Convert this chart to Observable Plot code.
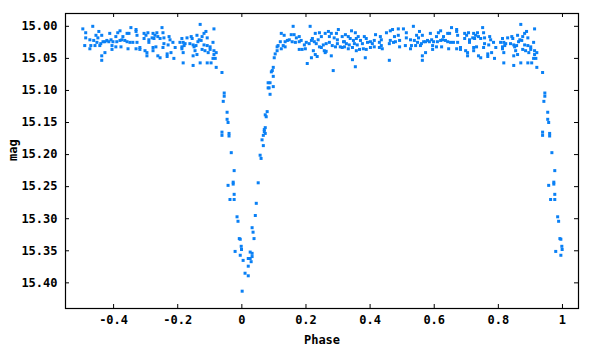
<!DOCTYPE html>
<html>
<head>
<meta charset="utf-8">
<script src="https://cdn.jsdelivr.net/npm/d3@7"></script>
<script src="https://cdn.jsdelivr.net/npm/@observablehq/plot@0.6"></script>
<style>
  html, body { margin: 0; padding: 0; background: #fff; }
  #chart { width: 600px; height: 350px; }
</style>
</head>
<body>
<div id="chart"></div>
<script>
// Tick labels
const xTicks = [-0.4, -0.2, 0, 0.2, 0.4, 0.6, 0.8, 1];
const yTicks = [15.00, 15.05, 15.10, 15.15, 15.20, 15.25, 15.30, 15.35, 15.40];

// Observations [phase, mag], phase folded to [-0.5, 0.5)
const plateauA = [
  [-0.496,15.004],[-0.465,15.000],[-0.487,15.010],[-0.446,15.008],[-0.487,15.018],[-0.474,15.021],[-0.455,15.014],[-0.449,15.018],
  [-0.437,15.014],[-0.412,15.011],[-0.387,15.010],[-0.380,15.007],[-0.346,15.002],[-0.330,15.005],[-0.330,15.008],[-0.358,15.011],
  [-0.352,15.011],[-0.371,15.016],[-0.393,15.016],[-0.327,15.014],[-0.305,15.011],[-0.293,15.010],[-0.299,15.014],[-0.277,15.011],
  [-0.265,15.010],[-0.271,15.014],[-0.262,15.016],[-0.255,15.019],[-0.274,15.019],[-0.249,15.002],[-0.246,15.010],
  [-0.421,15.022],[-0.408,15.021],[-0.402,15.024],[-0.415,15.024],[-0.427,15.024],[-0.390,15.024],[-0.380,15.022],[-0.374,15.021],
  [-0.365,15.022],[-0.358,15.024],[-0.349,15.025],[-0.340,15.025],[-0.327,15.025],[-0.305,15.019],[-0.290,15.021],[-0.290,15.025],
  [-0.280,15.018],[-0.462,15.022],[-0.452,15.025],[-0.440,15.027],[-0.433,15.024],
  [-0.490,15.030],[-0.471,15.030],[-0.458,15.030],[-0.443,15.030],[-0.474,15.035],[-0.405,15.030],[-0.405,15.036],[-0.393,15.032],
  [-0.377,15.032],[-0.355,15.035],[-0.330,15.035],[-0.318,15.033],[-0.318,15.036],[-0.302,15.038],[-0.296,15.041],[-0.296,15.046],
  [-0.277,15.033],[-0.277,15.038],[-0.268,15.032],[-0.262,15.046],[-0.255,15.049],[-0.427,15.041],[-0.437,15.046],[-0.437,15.053]
];
const plateauB = [
  [-0.130,14.997],[-0.087,15.004],[-0.112,15.008],[-0.118,15.011],[-0.124,15.016],[-0.108,15.018],
  [-0.243,15.018],[-0.227,15.016],[-0.224,15.021],[-0.215,15.025],[-0.230,15.029],[-0.243,15.027],[-0.246,15.033],
  [-0.208,15.033],[-0.221,15.041],[-0.233,15.043],[-0.233,15.047],[-0.212,15.050],
  [-0.187,15.019],[-0.171,15.018],[-0.158,15.016],[-0.155,15.019],[-0.140,15.014],[-0.133,15.021],[-0.127,15.022],[-0.137,15.024],
  [-0.193,15.025],[-0.183,15.025],[-0.177,15.027],[-0.187,15.032],[-0.162,15.027],[-0.152,15.029],[-0.149,15.032],[-0.143,15.030],
  [-0.187,15.035],[-0.180,15.030],[-0.183,15.041],[-0.146,15.038],[-0.152,15.046],[-0.140,15.044],
  [-0.118,15.029],[-0.108,15.030],[-0.099,15.032],[-0.090,15.025],[-0.124,15.036],[-0.115,15.038],[-0.105,15.041],[-0.099,15.036],
  [-0.087,15.038],[-0.080,15.041],[-0.087,15.044],[-0.090,15.050],[-0.083,15.050],
  [-0.183,15.057],[-0.152,15.061],[-0.130,15.057],[-0.108,15.057],[-0.096,15.057],
  [-0.080,15.064],[-0.062,15.072]
];
const ingress = [
  [-0.055,15.104],[-0.055,15.109],[-0.058,15.117],[-0.046,15.134],[-0.046,15.145],[-0.043,15.150],[-0.062,15.165],[-0.062,15.170],
  [-0.040,15.167],[-0.040,15.171],[-0.033,15.197],[-0.024,15.225],[-0.027,15.243],[-0.027,15.246],[-0.043,15.248],[-0.024,15.262],
  [-0.037,15.270],[-0.024,15.270],[-0.015,15.297],[-0.012,15.304],[-0.008,15.331],[-0.005,15.332],[-0.002,15.343],[-0.001,15.348],
  [-0.021,15.351],[-0.005,15.357]
];
const egress = [
  [0.004,15.365],[0.020,15.374],[0.010,15.385],[0.020,15.389],[0.001,15.413],[0.026,15.352],[0.032,15.354],[0.032,15.359],
  [0.026,15.362],[0.029,15.367],[0.020,15.362],[0.038,15.331],[0.035,15.321],[0.032,15.314],[0.042,15.295],[0.045,15.276],
  [0.051,15.244],[0.057,15.201],[0.060,15.206],[0.067,15.186],[0.063,15.177],[0.067,15.170],[0.073,15.167],[0.070,15.164],
  [0.070,15.161],[0.073,15.158],[0.076,15.141],[0.073,15.138],[0.079,15.133],[0.088,15.106],[0.098,15.094],[0.082,15.096],
  [0.085,15.096],[0.082,15.088],[0.088,15.088],[0.092,15.071],[0.095,15.069],[0.098,15.064],[0.098,15.078]
];
const plateauC = [
  [0.101,15.049],[0.104,15.043],[0.110,15.038],[0.110,15.032],[0.123,15.035],[0.113,15.030],
  [0.123,15.011],[0.132,15.014],[0.120,15.024],[0.135,15.024],[0.129,15.030],[0.135,15.032],[0.142,15.022],[0.148,15.021],
  [0.160,15.000],[0.154,15.013],[0.163,15.013],[0.170,15.018],[0.179,15.016],[0.157,15.024],[0.167,15.025],[0.179,15.024],[0.185,15.022],
  [0.179,15.036],[0.188,15.036],[0.198,15.035],[0.195,15.029],[0.201,15.025],[0.210,15.027],[0.217,15.022],[0.220,15.019],[0.226,15.024],
  [0.213,15.000],[0.229,15.011],[0.238,15.021],[0.242,15.010],[0.248,15.016],[0.260,15.011],[0.270,15.008],[0.279,15.011],
  [0.273,15.016],[0.288,15.018],[0.295,15.011],[0.301,15.005],[0.298,15.021],[0.313,15.016],[0.320,15.024],[0.323,15.013],
  [0.232,15.027],[0.242,15.032],[0.248,15.033],[0.254,15.029],[0.263,15.027],[0.273,15.025],[0.282,15.030],[0.292,15.032],
  [0.298,15.027],[0.307,15.032],[0.313,15.033],
  [0.223,15.038],[0.229,15.044],[0.235,15.047],[0.217,15.049],[0.257,15.038],[0.263,15.039],[0.279,15.046],[0.260,15.041],
  [0.204,15.058],[0.285,15.069]
];
const plateauD = [
  [0.342,15.007],[0.354,15.010],[0.332,15.016],[0.338,15.019],[0.348,15.022],[0.357,15.019],[0.363,15.016],[0.370,15.022],
  [0.382,15.016],[0.388,15.019],
  [0.317,15.024],[0.326,15.027],[0.335,15.029],[0.351,15.027],[0.360,15.029],[0.376,15.027],[0.392,15.025],[0.401,15.024],
  [0.413,15.022],[0.417,15.013],[0.407,15.027],
  [0.320,15.032],[0.332,15.035],[0.345,15.033],[0.357,15.038],[0.367,15.036],[0.379,15.035],[0.388,15.036],[0.401,15.033],
  [0.413,15.032],[0.432,15.016],[0.435,15.021],[0.429,15.025],[0.435,15.030],[0.429,15.033],[0.438,15.035],
  [0.345,15.052],[0.385,15.049],[0.354,15.063],[0.460,15.053],
  [0.451,15.010],[0.463,15.007],[0.470,15.005],[0.488,15.004],[0.476,15.016],[0.488,15.014],[0.463,15.022],[0.479,15.024],
  [0.492,15.022],[0.460,15.027],[0.473,15.025],[0.492,15.032]
];

// Folded curve plus the negative-phase half repeated one cycle later
const base = [...plateauA, ...plateauB, ...ingress, ...egress, ...plateauC, ...plateauD]
  .map(([phase, mag]) => ({phase, mag}));
const repeated = base.filter(d => d.phase < 0).map(d => ({phase: d.phase + 1, mag: d.mag}));
const points = [...base, ...repeated];

const font = "DejaVu Sans Mono";
const W = 600, H = 350, ML = 65, MR = 22, MT = 13, MB = 42;
const tickLen = 4;
const innerW = W - ML - MR, innerH = H - MT - MB;

const chart = Plot.plot({
  width: W,
  height: H,
  marginLeft: ML,
  marginRight: MR,
  marginTop: MT,
  marginBottom: MB,
  style: {fontFamily: font, fontSize: "12px", fontWeight: "bold", color: "#000", background: "#fff"},
  x: {domain: [-0.55, 1.05]},
  y: {domain: [14.98, 15.44], reverse: true},
  marks: [
    Plot.axisX({ticks: xTicks, tickSize: 0, tickPadding: 7, tickFormat: d => String(d), label: null}),
    Plot.axisY({ticks: yTicks, tickSize: 0, tickPadding: 8, tickFormat: d3.format(".2f"), label: null}),
    // inward tick marks on all four sides
    Plot.ruleX(xTicks, {x: d => d, insetTop: innerH - tickLen, stroke: "#000"}),
    Plot.ruleX(xTicks, {x: d => d, insetBottom: innerH - tickLen, stroke: "#000"}),
    Plot.ruleY(yTicks, {y: d => d, insetRight: innerW - tickLen, stroke: "#000"}),
    Plot.ruleY(yTicks, {y: d => d, insetLeft: innerW - tickLen, stroke: "#000"}),
    Plot.frame({stroke: "#000", strokeWidth: 1.2}),
    Plot.text(["Phase"], {frameAnchor: "bottom", dy: 35, text: d => d, fontSize: 12, fontWeight: "bold"}),
    Plot.text(["mag"], {frameAnchor: "left", dx: -52, rotate: -90, text: d => d, fontSize: 12, fontWeight: "bold"}),
    Plot.dot(points, {x: "phase", y: "mag", symbol: "square", r: 1.7, fill: "#0a80f5", stroke: null})
  ]
});
document.getElementById("chart").appendChild(chart);
</script>
</body>
</html>
